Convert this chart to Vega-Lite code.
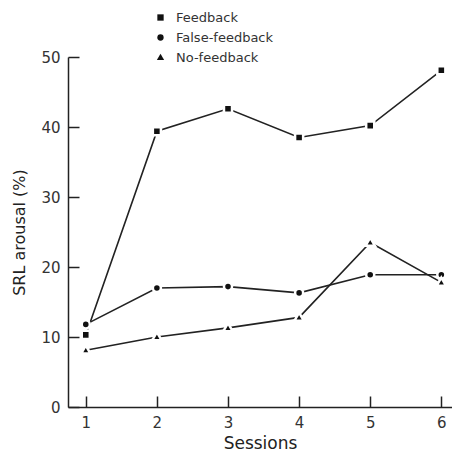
{
  "$schema": "https://vega.github.io/schema/vega-lite/v6.json",
  "width": 384,
  "height": 350,
  "autosize": {"type": "none"},
  "padding": {"left": 68, "top": 57, "right": 0, "bottom": 46},
  "background": "white",
  "config": {
    "view": {"stroke": null},
    "font": "DejaVu Sans",
    "axis": {
      "grid": false,
      "domainColor": "#222",
      "domainWidth": 1.5,
      "tickColor": "#222",
      "tickWidth": 1.5,
      "labelColor": "#333",
      "titleColor": "#222",
      "labelFont": "DejaVu Sans",
      "titleFont": "DejaVu Sans",
      "titleFontWeight": "normal"
    }
  },
  "data": {
    "values": [
      {"group": "Feedback", "session": 1, "value": 10.3},
      {"group": "Feedback", "session": 2, "value": 39.4},
      {"group": "Feedback", "session": 3, "value": 42.6},
      {"group": "Feedback", "session": 4, "value": 38.5},
      {"group": "Feedback", "session": 5, "value": 40.2},
      {"group": "Feedback", "session": 6, "value": 48.1},
      {"group": "False-feedback", "session": 1, "value": 11.8},
      {"group": "False-feedback", "session": 2, "value": 17.0},
      {"group": "False-feedback", "session": 3, "value": 17.2},
      {"group": "False-feedback", "session": 4, "value": 16.3},
      {"group": "False-feedback", "session": 5, "value": 18.9},
      {"group": "False-feedback", "session": 6, "value": 18.9},
      {"group": "No-feedback", "session": 1, "value": 8.1},
      {"group": "No-feedback", "session": 2, "value": 10.0},
      {"group": "No-feedback", "session": 3, "value": 11.3},
      {"group": "No-feedback", "session": 4, "value": 12.8},
      {"group": "No-feedback", "session": 5, "value": 23.5},
      {"group": "No-feedback", "session": 6, "value": 17.8}
    ]
  },
  "encoding": {
    "x": {
      "field": "session",
      "type": "quantitative",
      "scale": {"domain": [0.75, 6.15], "nice": false, "zero": false},
      "axis": {
        "values": [1, 2, 3, 4, 5, 6],
        "format": "d",
        "tickSize": -11,
        "labelPadding": 19,
        "labelFontSize": 15,
        "title": "Sessions",
        "titleFontSize": 17,
        "titlePadding": 5
      }
    },
    "y": {
      "field": "value",
      "type": "quantitative",
      "scale": {"domain": [0, 50], "nice": false},
      "axis": {
        "values": [0, 10, 20, 30, 40, 50],
        "tickSize": -11,
        "labelPadding": 19,
        "labelFontSize": 15,
        "title": "SRL arousal (%)",
        "titleFontSize": 16,
        "titlePadding": 13
      }
    }
  },
  "layer": [
    {
      "mark": {"type": "line", "color": "#222", "strokeWidth": 1.6},
      "encoding": {"detail": {"field": "group", "type": "nominal"}}
    },
    {
      "mark": {"type": "point", "filled": true, "fill": "#111", "stroke": "white", "strokeWidth": 2.5, "size": 65, "opacity": 1},
      "encoding": {
        "shape": {
          "field": "group",
          "type": "nominal",
          "scale": {"domain": ["Feedback", "False-feedback", "No-feedback"], "range": ["square", "circle", "M0,-1.2L1.15,0.8L-1.15,0.8Z"]},
          "legend": {
            "orient": "none",
            "legendX": 86,
            "legendY": -46,
            "title": null,
            "padding": 0,
            "symbolSize": 40,
            "symbolFillColor": "#111",
            "symbolStrokeWidth": 0,
            "labelFontSize": 13,
            "labelColor": "#333",
            "labelOffset": 9,
            "rowPadding": 6
          }
        }
      }
    }
  ]
}
